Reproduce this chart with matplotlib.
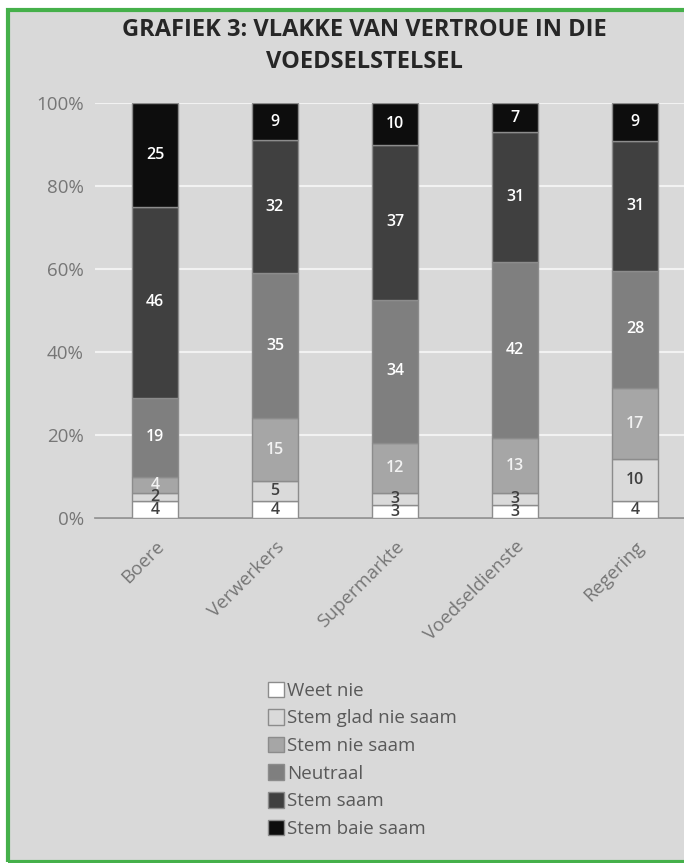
import matplotlib.pyplot as plt
from matplotlib.patches import Rectangle
import numpy as np

# --- data ---
categories = ['Boere', 'Verwerkers', 'Supermarkte', 'Voedseldienste', 'Regering']
series_names = ['Weet nie', 'Stem glad nie saam', 'Stem nie saam',
                'Neutraal', 'Stem saam', 'Stem baie saam']
weet_nie = [4, 4, 3, 3, 4]
glad_nie_saam = [2, 5, 3, 3, 10]
nie_saam = [4, 15, 12, 13, 17]
neutraal = [19, 35, 34, 42, 28]
stem_saam = [46, 32, 37, 31, 31]
baie_saam = [25, 9, 10, 7, 9]

colors = ['#FFFFFF', '#DADADA', '#A6A6A6', '#7F7F7F', '#404040', '#0D0D0D']
label_colors = ['#404040', '#404040', '#F2F2F2', '#FFFFFF', '#FFFFFF', '#FFFFFF']

W, H = 684, 863
fig = plt.figure(figsize=(W / 100, H / 100), dpi=100, facecolor='white')
plt.rcParams['font.family'] = ['Open Sans', 'DejaVu Sans']

# gray chart area + green frame
fig.patches.append(Rectangle((8 / W, 0), 1, 1 - 10 / H, transform=fig.transFigure,
                             facecolor='#D9D9D9', edgecolor='none', zorder=-2))
fig.patches.append(Rectangle((8 / W, 1 / H), 1, 1 - 11 / H, transform=fig.transFigure,
                             facecolor='none', edgecolor='#45B04A', linewidth=3, zorder=-1))

ax = fig.add_axes([95 / W, 1 - 518 / H, 600 / W, 415 / H])
ax.set_zorder(2)
ax.set_facecolor('none')

data = np.array([weet_nie, glad_nie_saam, nie_saam, neutraal, stem_saam, baie_saam], dtype=float)
pct = data / data.sum(axis=0) * 100
x = np.arange(len(categories))
bottom = np.zeros(len(categories))
for i, name in enumerate(series_names):
    ax.bar(x, pct[i], 0.39, bottom=bottom, color=colors[i], edgecolor='#8C8C8C',
           linewidth=1, label=name, zorder=3)
    for j in range(len(categories)):
        ax.text(x[j], bottom[j] + pct[i][j] / 2, f'{int(data[i][j])}', ha='center',
                va='center', fontsize=11.5, fontweight='semibold',
                color=label_colors[i], zorder=4)
    bottom += pct[i]

ax.set_xlim(-0.5, 4.5)
ax.set_ylim(0, 100)
ax.set_yticks([0, 20, 40, 60, 80, 100])
ax.set_yticklabels(['0%', '20%', '40%', '60%', '80%', '100%'])
ax.yaxis.grid(True, color='#F2F2F2', linewidth=1.5, zorder=1)
ax.set_axisbelow(True)
for s in ['top', 'right', 'left']:
    ax.spines[s].set_visible(False)
ax.spines['bottom'].set_color('#8C8C8C')
ax.spines['bottom'].set_linewidth(1.2)
ax.tick_params(axis='y', length=0, pad=8, labelsize=13.5, labelcolor='#767676')
ax.tick_params(axis='x', length=0, pad=14, labelsize=13.5, labelcolor='#767676')
ax.set_xticks(x)
ax.set_xticklabels(categories, rotation=45, ha='right', rotation_mode='anchor')

fig.text(364 / W, 1 - 30 / H, 'GRAFIEK 3: VLAKKE VAN VERTROUE IN DIE', ha='center',
         va='center', fontsize=17, fontweight='bold', color='#262626')
fig.text(364 / W, 1 - 62 / H, 'VOEDSELSTELSEL', ha='center', va='center',
         fontsize=17, fontweight='bold', color='#262626')

handles, labels = ax.get_legend_handles_labels()
fig.legend(handles, labels, loc='upper left', bbox_to_anchor=(260 / W, 1 - 674 / H),
           frameon=False, fontsize=13.5, labelcolor='#595959', handlelength=0.9,
           handleheight=0.9, handletextpad=0.15, labelspacing=0.5, borderaxespad=0)

fig.savefig('out.png', dpi=100)
